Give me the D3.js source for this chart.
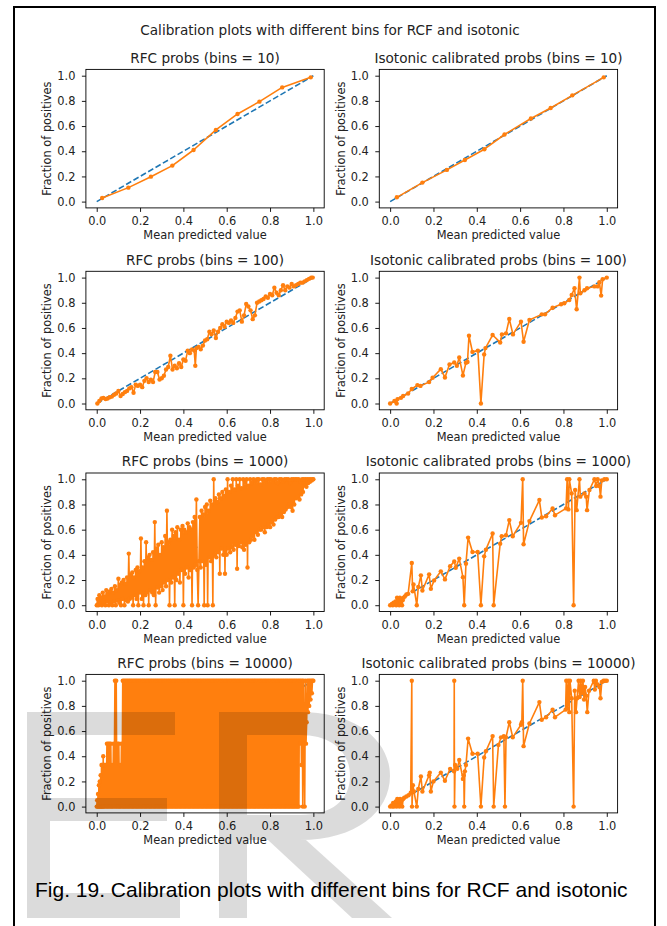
<!DOCTYPE html>
<html><head><meta charset="utf-8">
<script src="https://cdn.jsdelivr.net/npm/d3@7"></script>
<style>body{margin:0;background:#fff}svg{display:block}</style>
</head><body>
<svg id="c" width="667" height="926"></svg>
<script>
// ---------------- DATA ----------------
const figTitle = "Calibration plots with different bins for RCF and isotonic";
const caption = "Fig. 19. Calibration plots with different bins for RCF and isotonic";
const panelTitles = [
  "RFC probs (bins = 10)", "Isotonic calibrated probs (bins = 10)",
  "RFC probs (bins = 100)", "Isotonic calibrated probs (bins = 100)",
  "RFC probs (bins = 1000)", "Isotonic calibrated probs (bins = 1000)",
  "RFC probs (bins = 10000)", "Isotonic calibrated probs (bins = 10000)"
];
const xLabel = "Mean predicted value";
const yLabel = "Fraction of positives";
const tickValues = [0.0, 0.2, 0.4, 0.6, 0.8, 1.0];
const perfectLine = [[0, 0], [1, 1]];

const rfc10 = [[0.025,0.029],[0.146,0.111],[0.25,0.198],[0.349,0.286],[0.447,0.41],[0.55,0.569],[0.65,0.696],[0.751,0.794],[0.856,0.907],[0.988,0.987]];
const iso10 = [[0.031,0.034],[0.149,0.151],[0.262,0.252],[0.345,0.33],[0.435,0.416],[0.528,0.533],[0.65,0.66],[0.741,0.743],[0.841,0.844],[0.986,0.987]];

const rfc100 = [[0.003,0],[0.012,0.02],[0.022,0.04],[0.031,0.045],[0.041,0.035],[0.05,0.04],[0.06,0.05],[0.07,0.055],[0.08,0.07],[0.09,0.08],[0.1,0.1],[0.11,0.06],[0.12,0.075],[0.13,0.09],[0.14,0.1],[0.15,0.12],[0.16,0.13],[0.17,0.085],[0.18,0.15],[0.19,0.14],[0.2,0.15],[0.21,0.13],[0.22,0.18],[0.23,0.2],[0.24,0.17],[0.25,0.19],[0.26,0.17],[0.27,0.25],[0.28,0.25],[0.29,0.19],[0.3,0.2],[0.31,0.22],[0.32,0.27],[0.33,0.29],[0.34,0.38],[0.35,0.27],[0.36,0.3],[0.37,0.28],[0.38,0.32],[0.39,0.29],[0.4,0.35],[0.41,0.34],[0.42,0.42],[0.43,0.4],[0.44,0.43],[0.45,0.42],[0.455,0.3],[0.46,0.44],[0.47,0.45],[0.48,0.43],[0.49,0.46],[0.5,0.5],[0.51,0.51],[0.52,0.57],[0.53,0.55],[0.54,0.58],[0.55,0.52],[0.56,0.57],[0.57,0.6],[0.58,0.63],[0.59,0.61],[0.6,0.65],[0.61,0.64],[0.62,0.66],[0.63,0.64],[0.64,0.68],[0.65,0.73],[0.66,0.74],[0.67,0.65],[0.68,0.7],[0.69,0.79],[0.7,0.77],[0.71,0.74],[0.72,0.67],[0.73,0.7],[0.74,0.8],[0.75,0.81],[0.76,0.82],[0.77,0.83],[0.78,0.85],[0.79,0.84],[0.8,0.87],[0.81,0.86],[0.82,0.92],[0.83,0.88],[0.84,0.86],[0.85,0.9],[0.86,0.94],[0.87,0.9],[0.88,0.93],[0.89,0.92],[0.9,0.95],[0.91,0.93],[0.92,0.94],[0.93,0.95],[0.94,0.96],[0.95,0.96],[0.96,0.97],[0.97,0.98],[0.98,0.99],[0.99,1],[0.997,1]];

const iso100 = [[0,0],[0.02,0.02],[0.03,0],[0.034,0.035],[0.05,0.045],[0.06,0.06],[0.083,0.08],[0.1,0.115],[0.126,0.146],[0.14,0.14],[0.18,0.17],[0.196,0.205],[0.234,0.273],[0.253,0.207],[0.274,0.31],[0.296,0.326],[0.308,0.3],[0.319,0.366],[0.336,0.223],[0.35,0.324],[0.357,0.33],[0.364,0.538],[0.38,0.41],[0.405,0.42],[0.419,0],[0.434,0.39],[0.44,0.44],[0.473,0.544],[0.508,0.485],[0.516,0.549],[0.535,0.557],[0.55,0.671],[0.567,0.549],[0.604,0.65],[0.616,0.49],[0.643,0.663],[0.7,0.708],[0.715,0.708],[0.75,0.761],[0.789,0.788],[0.804,0.796],[0.827,0.822],[0.838,0.862],[0.851,0.915],[0.861,0.748],[0.874,1],[0.878,0.875],[0.897,0.9],[0.909,0.915],[0.943,0.93],[0.958,0.93],[0.966,0.963],[0.974,0.857],[0.981,0.987],[1,1]];

const rfc1000 = [
[0,0],[.004,.05],[.008,0],[.012,.08],[.016,.01],[.02,.06],[.024,0],[.028,.1],[.032,.02],[.036,.07],
[.04,0],[.044,.12],[.048,.03],[.052,.09],[.056,0],[.06,.11],[.064,.02],[.068,.13],[.072,0],[.076,.1],
[.08,.03],[.084,.15],[.088,0],[.092,.12],[.096,.04],[.1,.21],[.104,.02],[.108,.16],[.112,0],[.116,.18],
[.12,.05],[.124,.2],[.128,0],[.132,.17],[.136,.04],[.14,.22],[.144,.03],[.148,.41],[.152,.05],[.156,.24],
[.16,.06],[.164,.26],[.168,0],[.172,.22],[.176,.08],[.18,.28],[.184,.05],[.188,.3],[.192,0],[.196,.27],
[.2,.1],[.204,.53],[.208,.05],[.212,.3],[.216,0],[.22,.35],[.224,.08],[.228,.5],[.232,.1],[.236,.38],
[.24,0],[.244,.4],[.248,.12],[.252,.36],[.256,.1],[.26,.42],[.264,.08],[.268,.66],[.272,0],[.276,.45],
[.28,.14],[.284,.48],[.288,.1],[.292,.4],[.296,.15],[.3,.5],[.304,.12],[.308,.46],[.312,.18],[.316,.55],
[.32,.15],[.324,.75],[.328,.2],[.332,.5],[.336,0],[.34,.52],[.344,.18],[.348,.6],[.352,.22],[.356,.55],
[.36,0],[.364,.58],[.368,.2],[.372,.62],[.376,.25],[.38,.52],[.384,.18],[.388,.6],[.392,.28],[.396,.63],
[.4,0],[.404,.6],[.408,.25],[.412,.58],[.416,.3],[.42,.65],[.424,.22],[.428,.62],[.432,.28],[.436,.6],
[.44,0],[.444,.66],[.448,.3],[.452,.7],[.456,.32],[.46,.84],[.464,.28],[.468,0],[.472,.35],[.476,.7],
[.48,.3],[.484,.75],[.488,.35],[.492,.72],[.496,0],[.5,.78],[.504,.32],[.508,.8],[.512,0],[.516,.75],
[.52,.38],[.524,.83],[.528,.35],[.532,.8],[.536,0],[.54,1],[.544,.4],[.548,.85],[.552,.38],[.556,.82],
[.56,.42],[.564,.88],[.568,.25],[.572,.85],[.576,.45],[.58,.9],[.584,.4],[.588,.87],[.592,.25],[.596,.92],
[.6,.4],[.604,1],[.608,.45],[.612,.9],[.616,.42],[.62,.95],[.624,.46],[.628,1],[.632,.44],[.636,.92],
[.64,.48],[.644,1],[.648,.29],[.652,.95],[.656,.47],[.66,1],[.664,.5],[.668,.93],[.672,.46],[.676,1],
[.68,.44],[.684,.98],[.688,.48],[.692,1],[.696,.3],[.7,.95],[.704,.5],[.708,1],[.712,.52],[.716,.97],
[.72,.55],[.724,1],[.728,.52],[.732,.98],[.736,.58],[.74,1],[.744,.56],[.748,1],[.752,.6],[.756,.96],
[.76,.6],[.764,1],[.768,.62],[.772,1],[.776,.58],[.78,.98],[.784,.62],[.788,1],[.792,.64],[.796,1],
[.8,.62],[.804,1],[.808,.66],[.812,.98],[.816,.64],[.82,1],[.824,.68],[.828,1],[.832,.7],[.836,.97],
[.84,.7],[.844,1],[.848,.72],[.852,1],[.856,.7],[.86,.98],[.864,.74],[.868,1],[.872,.76],[.876,1],
[.88,.78],[.884,1],[.888,.8],[.892,.97],[.896,.78],[.9,1],[.904,.75],[.908,1],[.912,.8],[.916,1],
[.92,.85],[.924,1],[.928,.86],[.932,1],[.936,.84],[.94,.98],[.944,.88],[.948,1],[.952,.9],[.956,1],
[.96,.95],[.964,1],[.968,.94],[.972,1],[.976,.97],[.98,1],[.984,.98],[.988,1],[.992,.99],[.996,1],[1,1]];

const iso1000 = [[0,0],[0.008,0.01],[0.012,0],[0.016,0.02],[0.02,0.005],[0.025,0.03],[0.028,0],[0.032,0.06],[0.035,0.01],[0.038,0.05],[0.042,0],[0.045,0.06],[0.048,0.02],[0.052,0.05],[0.055,0],[0.058,0.04],[0.062,0.06],[0.068,0.07],[0.075,0.085],[0.083,0.09],[0.1,0.335],[0.104,0.11],[0.108,0.165],[0.123,0],[0.13,0.144],[0.142,0.237],[0.149,0.117],[0.18,0.245],[0.188,0.13],[0.203,0.197],[0.234,0.269],[0.253,0.205],[0.277,0.309],[0.296,0.348],[0.303,0.298],[0.319,0.37],[0.336,0.223],[0.342,0],[0.35,0.33],[0.36,0.537],[0.38,0.423],[0.404,0.423],[0.419,0],[0.434,0.388],[0.442,0.441],[0.473,0.569],[0.478,0],[0.508,0.489],[0.515,0.548],[0.535,0.556],[0.55,0.676],[0.566,0.548],[0.604,0.654],[0.612,1],[0.616,0.484],[0.643,0.668],[0.689,0.835],[0.7,0.697],[0.72,0.707],[0.75,0.769],[0.761,0.715],[0.812,0.769],[0.817,1],[0.823,0.761],[0.827,1],[0.838,0.888],[0.847,0],[0.854,0.915],[0.861,0.755],[0.874,1],[0.878,0.862],[0.897,0.888],[0.905,0.862],[0.909,0.755],[0.92,0.915],[0.943,1],[0.951,0.947],[0.958,1],[0.966,0.947],[0.971,0.862],[0.977,0.99],[0.989,1],[1,1]];

const rfc10000 = [
[0,0],[.002,.05],[.004,0],[.006,.1],[.008,0],[.01,.17],[.012,0],[.014,.2],[.016,0],[.018,.25],[.02,0],[.022,.33],[.024,0],[.026,.33],[.028,0],[.03,.4],[.032,0],[.035,.33],[.038,0],[.041,.33],[.044,0],[.047,.5],[.05,0],[.053,.5],[.056,0],[.059,.5],[.062,0],[.065,.5],[.068,0],[.071,.33],[.074,0],[.077,.5],[.08,0],[.084,1],[.087,0],[.09,1],[.093,0],[.096,.5],[.099,0],[.102,.5],[.105,0],[.108,.33],[.111,0],[.114,.5],[.117,0],[.12,1],
[.123,0],[.126,1],[.129,0],[.132,1],[.135,0],[.138,1],[.141,0],[.144,1],[.147,0],[.15,1],
[.153,0],[.156,1],[.159,0],[.162,1],[.165,0],[.168,1],[.171,0],[.174,1],[.177,0],[.18,1],
[.183,0],[.186,1],[.189,0],[.192,1],[.195,0],[.198,1],[.201,0],[.204,1],[.207,0],[.21,1],
[.213,0],[.216,1],[.219,0],[.222,1],[.225,0],[.228,1],[.231,0],[.234,1],[.237,0],[.24,1],
[.243,0],[.246,1],[.249,0],[.252,1],[.255,0],[.258,1],[.261,0],[.264,1],[.267,0],[.27,1],
[.273,0],[.276,1],[.279,0],[.282,1],[.285,0],[.288,1],[.291,0],[.294,1],[.297,0],[.3,1],
[.303,0],[.306,1],[.309,0],[.312,1],[.315,0],[.318,1],[.321,0],[.324,1],[.327,0],[.33,1],
[.333,0],[.336,1],[.339,0],[.342,1],[.345,0],[.348,1],[.351,0],[.354,1],[.357,0],[.36,1],
[.363,0],[.366,1],[.369,0],[.372,1],[.375,0],[.378,1],[.381,0],[.384,1],[.387,0],[.39,1],
[.393,0],[.396,1],[.399,0],[.402,1],[.405,0],[.408,1],[.411,0],[.414,1],[.417,0],[.42,1],
[.423,0],[.426,1],[.429,0],[.432,1],[.435,0],[.438,1],[.441,0],[.444,1],[.447,0],[.45,1],
[.453,0],[.456,1],[.459,0],[.462,1],[.465,0],[.468,1],[.471,0],[.474,1],[.477,0],[.48,1],
[.483,0],[.486,1],[.489,0],[.492,1],[.495,0],[.498,1],[.501,0],[.504,1],[.507,0],[.51,1],
[.513,0],[.516,1],[.519,0],[.522,1],[.525,0],[.528,1],[.531,0],[.534,1],[.537,0],[.54,1],
[.543,0],[.546,1],[.549,0],[.552,1],[.555,0],[.558,1],[.561,0],[.564,1],[.567,0],[.57,1],
[.573,0],[.576,1],[.579,0],[.582,1],[.585,0],[.588,1],[.591,0],[.594,1],[.597,0],[.6,1],
[.603,0],[.606,1],[.609,0],[.612,1],[.615,0],[.618,1],[.621,0],[.624,1],[.627,0],[.63,1],
[.633,0],[.636,1],[.639,0],[.642,1],[.645,0],[.648,1],[.651,0],[.654,1],[.657,0],[.66,1],
[.663,0],[.666,1],[.669,0],[.672,1],[.675,0],[.678,1],[.681,0],[.684,1],[.687,0],[.69,1],
[.693,0],[.696,1],[.699,0],[.702,1],[.705,0],[.708,1],[.711,0],[.714,1],[.717,0],[.72,1],
[.723,0],[.726,1],[.729,0],[.732,1],[.735,0],[.738,1],[.741,0],[.744,1],[.747,0],[.75,1],
[.753,0],[.756,1],[.759,0],[.762,1],[.765,0],[.768,1],[.771,0],[.774,1],[.777,0],[.78,1],
[.783,0],[.786,1],[.789,0],[.792,1],[.795,0],[.798,1],[.801,0],[.804,1],[.807,0],[.81,1],
[.813,0],[.816,1],[.819,0],[.822,1],[.825,0],[.828,1],[.831,0],[.834,1],[.837,0],[.84,1],
[.843,0],[.846,1],[.849,0],[.852,1],[.855,0],[.858,1],[.861,0],[.864,1],[.867,0],[.87,1],
[.873,0],[.876,1],[.879,0],[.882,1],[.885,0],[.888,1],[.891,0],[.894,1],[.897,0],[.9,1],
[.903,0],[.906,1],[.909,0],[.912,1],[.915,0],[.918,1],[.921,0],[.924,1],[.927,0],[.93,1],
[.933,0],[.936,1],[.939,.5],[.942,1],[.945,.33],[.948,1],[.951,0],[.954,1],[.957,.5],[.96,0],[.963,1],[.966,.5],[.969,.67],[.972,1],[.975,.75],[.978,1],[.981,.8],[.984,1],[.987,.85],[.99,1],[.993,.9],[.996,1],[1,1]];

const iso10000 = [[0,0],[0.006,0.01],[0.01,0],[0.014,0.03],[0.018,0],[0.022,0.02],[0.026,0.04],[0.03,0],[0.033,0.06],[0.036,0.01],[0.04,0.05],[0.043,0],[0.046,0.06],[0.05,0.02],[0.053,0.05],[0.056,0],[0.06,0.06],[0.065,0.07],[0.075,0.08],[0.085,0.09],[0.095,0.11],[0.1,1],[0.101,0],[0.105,0.17],[0.11,0.12],[0.123,0],[0.13,0.14],[0.142,0.24],[0.149,0.12],[0.18,0.25],[0.183,0.27],[0.188,0.12],[0.2,0.2],[0.234,0.27],[0.253,0.205],[0.277,0.3],[0.295,0.28],[0.296,1],[0.297,0],[0.3,0.33],[0.31,0.3],[0.319,0.37],[0.336,0.22],[0.34,0.25],[0.342,0],[0.345,0.28],[0.35,0.33],[0.36,0.54],[0.38,0.42],[0.404,0.42],[0.419,0],[0.434,0.39],[0.442,0.44],[0.473,0.56],[0.478,0],[0.5,0.49],[0.512,0.55],[0.525,0.56],[0.53,0],[0.535,0.55],[0.55,0.67],[0.566,0.55],[0.604,0.65],[0.608,0.67],[0.612,1],[0.616,0.48],[0.643,0.66],[0.689,0.83],[0.7,0.69],[0.72,0.71],[0.75,0.77],[0.761,0.71],[0.81,0.77],[0.813,1],[0.818,0.78],[0.822,1],[0.827,0.75],[0.83,1],[0.838,0.86],[0.847,0],[0.852,0.92],[0.858,0.75],[0.863,0.86],[0.87,1],[0.875,0.87],[0.88,1],[0.885,0.9],[0.89,1],[0.895,0.85],[0.9,0.95],[0.905,0.88],[0.91,0.75],[0.918,0.92],[0.94,1],[0.945,0.93],[0.95,1],[0.958,0.97],[0.966,0.95],[0.971,0.86],[0.977,0.99],[0.985,1],[0.992,1],[1,1]];

const panelSeries = [rfc10, iso10, rfc100, iso100, rfc1000, iso1000, rfc10000, iso10000];

// ---------------- LAYOUT ----------------
const colLeft = [85.9, 379.3];
const rowTop = [69.4, 271.3, 473.0, 674.4];
const axW = 238.3, axH = 138.5;
const FONT = "'DejaVu Sans', sans-serif";
const ORANGE = "#ff7f0e", BLUE = "#1f77b4", INK = "#222";

const svg = d3.select("#c");
svg.append("rect").attr("width", 667).attr("height", 926).attr("fill", "#fff");

svg.append("rect").attr("x", 14).attr("y", 7).attr("width", 641).attr("height", 940)
  .attr("fill", "none").attr("stroke", "#000").attr("stroke-width", 2);

svg.append("text").attr("x", 330).attr("y", 34.5).attr("text-anchor", "middle")
  .attr("font-family", FONT).attr("font-size", 13.6).attr("fill", INK).text(figTitle);

panelSeries.forEach((data, i) => {
  const L = colLeft[i % 2], T = rowTop[Math.floor(i / 2)];
  const x = d3.scaleLinear().domain([-0.05, 1.05]).range([0, axW]);
  const y = d3.scaleLinear().domain([-0.05, 1.05]).range([axH, 0]);
  const g = svg.append("g").attr("transform", `translate(${L},${T})`);

  const line = d3.line().x(d => x(d[0])).y(d => y(d[1]));
  g.append("path").datum(perfectLine).attr("d", line).attr("fill", "none")
    .attr("stroke", BLUE).attr("stroke-width", 1.6).attr("stroke-dasharray", "5.9,2.6");
  g.append("path").datum(data).attr("d", line).attr("fill", "none")
    .attr("stroke", ORANGE).attr("stroke-width", 1.6).attr("stroke-linejoin", "round");
  g.append("g").selectAll("circle").data(data).join("circle")
    .attr("cx", d => x(d[0])).attr("cy", d => y(d[1])).attr("r", 2.2).attr("fill", ORANGE);

  g.append("rect").attr("width", axW).attr("height", axH).attr("fill", "none")
    .attr("stroke", "#000").attr("stroke-width", 0.9);

  const fmt = d3.format(".1f");
  const xa = g.append("g").attr("transform", `translate(0,${axH})`)
    .call(d3.axisBottom(x).tickValues(tickValues).tickFormat(fmt).tickSize(4).tickSizeOuter(0).tickPadding(5.3));
  const ya = g.append("g")
    .call(d3.axisLeft(y).tickValues(tickValues).tickFormat(fmt).tickSize(4).tickSizeOuter(0).tickPadding(6.5));
  [xa, ya].forEach(a => {
    a.select(".domain").remove();
    a.attr("font-family", FONT).attr("font-size", 11.4);
    a.selectAll(".tick line").attr("stroke", "#000").attr("stroke-width", 0.9);
    a.selectAll(".tick text").attr("fill", INK);
  });

  g.append("text").attr("x", axW / 2).attr("y", -6.8).attr("text-anchor", "middle")
    .attr("font-family", FONT).attr("font-size", 13.6).attr("fill", INK).text(panelTitles[i]);
  g.append("text").attr("x", axW / 2).attr("y", axH + 31.5).attr("text-anchor", "middle")
    .attr("font-family", FONT).attr("font-size", 11.4).attr("fill", INK).text(xLabel);
  g.append("text").attr("transform", `translate(-34.5,${axH / 2}) rotate(-90)`).attr("text-anchor", "middle")
    .attr("font-family", FONT).attr("font-size", 11.4).attr("fill", INK).text(yLabel);
});

svg.append("text").attr("x", 35).attr("y", 897).attr("font-family", "'Liberation Sans', Arial, sans-serif")
  .attr("font-size", 21).attr("fill", "#000").text(caption);

// translucent watermark overlay ("E" and "R" letter shapes)
const wm = svg.append("g").attr("fill", "#000").attr("fill-opacity", 0.14);
wm.append("path").attr("d", "M27,712H175V735H50V798H167V821H50V893H180V918H27Z");
wm.append("path").attr("fill-rule", "evenodd")
  .attr("d", "M219,712H300C356,712 390,740 390,776C390,812 356,840 300,840H247V918H219Z M247,735H300C332,735 350,752 350,776C350,800 332,815 300,815H247Z");
wm.append("path").attr("d", "M268,840H306L392,918H352Z");
</script>
</body></html>
